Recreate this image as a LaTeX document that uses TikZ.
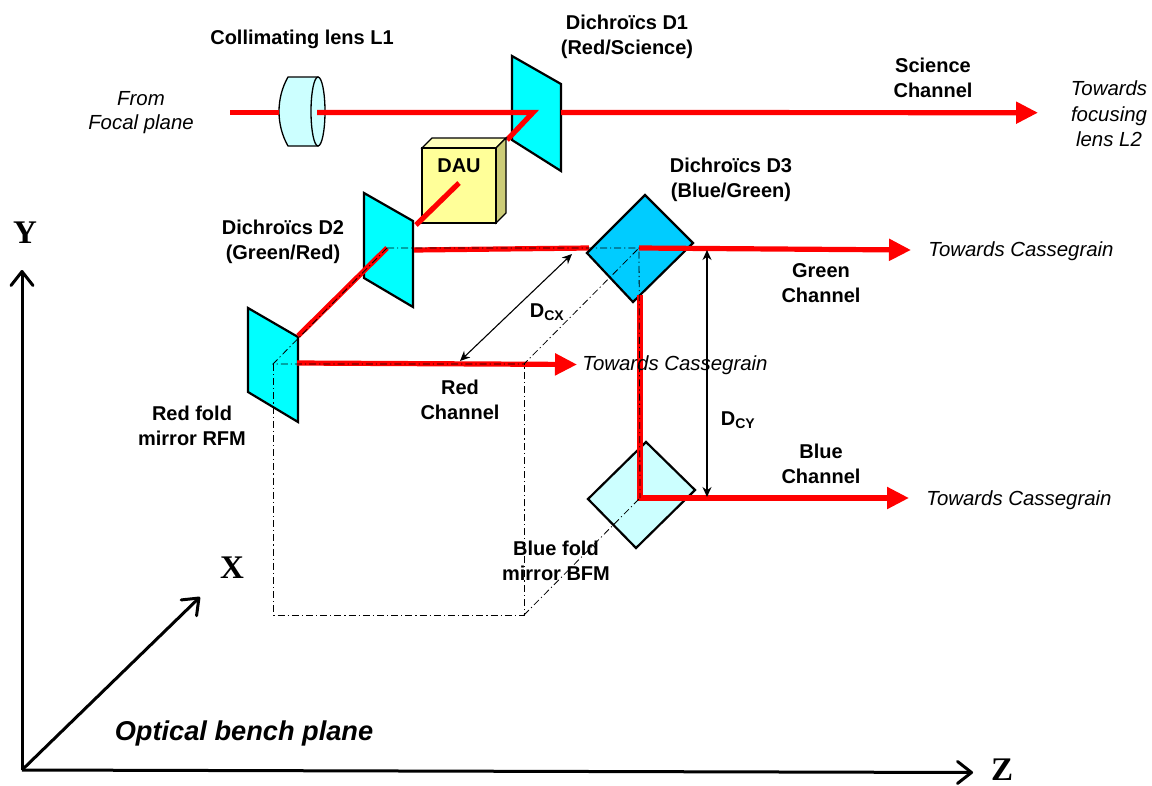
\documentclass[tikz,border=0pt]{standalone}
\usepackage{fontspec}
\setmainfont{Liberation Sans}
\newfontfamily\axisfont{Liberation Serif}
\usetikzlibrary{arrows.meta}
\definecolor{ray}{HTML}{FF0000}
\definecolor{mircyan}{HTML}{00FFFF}
\definecolor{dthree}{HTML}{00CCFF}
\definecolor{pale}{HTML}{CCFFFF}
\definecolor{dauf}{HTML}{FFFF99}
\definecolor{daus}{HTML}{CCCC77}
\definecolor{daut}{HTML}{FFFFBB}
\tikzset{
  x=1pt,y=-1pt,
  lbl/.style={align=center,inner sep=0pt,font=\fontsize{20}{24.8}\selectfont\bfseries},
  itl/.style={align=center,inner sep=0pt,font=\fontsize{20.4}{25.5}\selectfont\itshape},
  itltight/.style={align=center,inner sep=0pt,font=\fontsize{20.4}{24}\selectfont\itshape},
  axl/.style={inner sep=0pt,font=\fontsize{33}{36}\selectfont\axisfont\bfseries},
  mirror/.style={draw=black,line width=2.2pt,line join=miter},
  beam/.style={draw=ray,line width=5.2pt},
  beamarrow/.style={beam,-{Triangle[length=22pt,width=21pt]}},
  guide/.style={draw=black,line width=0.8pt,dash pattern=on 7pt off 3pt on 1.2pt off 3pt},
  dim/.style={draw=black,line width=1.1pt,{Stealth[length=10pt,width=9pt]}-{Stealth[length=10pt,width=9pt]}},
  axisline/.style={draw=black,line width=3pt,-{Straight Barb[length=14pt,width=22pt,line width=3pt,round]}},
}
\begin{document}
\begin{tikzpicture}
\useasboundingbox (0,0) rectangle (1152,785);
% named points
\coordinate (src) at (230,112.5);
\coordinate (lensL) at (279,112.5);
\coordinate (lensR) at (317,112.5);
\coordinate (d1c) at (533,112.5);
\coordinate (d1r) at (561,112.5);
\coordinate (sciEnd) at (1038,112.7);
\coordinate (d1low) at (507,140);
\coordinate (dauc) at (459,183);
\coordinate (dauin) at (416,225);
\coordinate (d2c) at (387,248);
\coordinate (d2r) at (414,250);
\coordinate (d2in) at (298,336);
\coordinate (rfmc) at (273,364);
\coordinate (rfmr) at (297,363);
\coordinate (redEnd) at (577,364.5);
\coordinate (d3l) at (589,248);
\coordinate (d3c) at (639,248);
\coordinate (greenEnd) at (911,250);
\coordinate (d3low) at (640,295);
\coordinate (bfmc) at (640,498);
\coordinate (blueEnd) at (909,498);
\coordinate (boxTR) at (524,364);
\coordinate (boxBR) at (524,615);
\coordinate (boxBL) at (273,615);
\coordinate (dcxA) at (572,254);
\coordinate (dcxB) at (460,361);
\coordinate (dcyA) at (707,250);
\coordinate (dcyB) at (707,497);
\coordinate (org) at (22,770);
\coordinate (yEnd) at (22,270);
\coordinate (zEnd) at (973,772.5);
\coordinate (xEnd) at (200,597);
% lens
\draw[fill=pale,line width=1.3pt] (288,77) -- (318,77) -- (318,146) -- (288,146)
  .. controls (276,125) and (276,98) .. (288,77) -- cycle;
\draw[fill=pale,line width=1.3pt] (318,111.5) ellipse [x radius=7,y radius=34.5];
% beam in
\draw[beam] (src) -- (lensL);
% D1
\draw[mirror,fill=mircyan] (512,56) -- (561,84) -- (561,171) -- (512,140) -- cycle;
\draw[beam,line join=miter] (lensR) -- (d1c) -- (d1low);
\draw[beamarrow] (d1r) -- (sciEnd);
% DAU
\draw[fill=daut,line width=1.1pt] (422,148) -- (432,138) -- (506,138) -- (496,148) -- cycle;
\draw[fill=daus,line width=1.1pt] (496,148) -- (506,138) -- (506,213) -- (496,223) -- cycle;
\draw[fill=dauf,line width=1.1pt] (422,148) rectangle (496,223);
\draw[beam] (dauc) -- (dauin);
% D2
\draw[mirror,fill=mircyan] (364,193) -- (413,221) -- (413,307) -- (364,278) -- cycle;
% RFM
\draw[mirror,fill=mircyan] (248,308) -- (298,337) -- (298,422) -- (248,392) -- cycle;
\draw[beam] (d2c) -- (d2in);
\draw[beam] (d2r) -- (d3l);
\draw[beamarrow] (rfmr) -- (redEnd);
% D3, BFM
\draw[mirror,fill=dthree] (645,195) -- (693,243) -- (633,302) -- (587,253) -- cycle;
\draw[mirror,fill=pale] (646,442) -- (695,490) -- (636,548) -- (588,499) -- cycle;
\draw[beamarrow,line join=miter] (d3low) -- (bfmc) -- (blueEnd);
\draw[beamarrow] (d3c) -- (greenEnd);
% guides
\draw[guide] (d2c) -- (d3c) -- (bfmc);
\draw[guide] (d2c) -- (rfmc) -- (boxTR) -- (d3c);
\draw[guide] (rfmc) -- (boxBL) -- (boxBR) -- (boxTR);
\draw[guide] (boxBR) -- (bfmc);
% dims
\draw[dim] (dcxA) -- (dcxB);
\draw[dim] (dcyA) -- (dcyB);
% axes
\draw[axisline] (org) -- (yEnd);
\draw[axisline] (org) -- (zEnd);
\draw[axisline] (org) -- (xEnd);
% labels
\node[lbl] (tL1) at (302,39) {Collimating lens L1};
\node[lbl] (tD1) at (627,36.5) {Dichroïcs D1\\(Red/Science)};
\node[lbl] (tSci) at (933,78) {Science\\Channel};
\node[itltight] (tFrom) at (141,112.5) {From\\Focal plane};
\node[itl] (tL2) at (1109,114) {Towards\\focusing\\lens L2};
\node[lbl] (tDAU) at (459,166) {DAU};
\node[lbl] (tD3) at (731,179.5) {Dichroïcs D3\\(Blue/Green)};
\node[lbl] (tD2) at (283,241.5) {Dichroïcs D2\\(Green/Red)};
\node[lbl] (tGreen) at (821,283) {Green\\Channel};
\node[itl] (tC1) at (1021,251.5) {Towards Cassegrain};
\node[lbl] (tDcx) at (547,312) {D\textsubscript{CX}};
\node[lbl] (tRed) at (460,400) {Red\\Channel};
\node[itl] (tC2) at (675,365) {Towards Cassegrain};
\node[lbl] (tDcy) at (738,420) {D\textsubscript{CY}};
\node[lbl] (tBlue) at (821,464) {Blue\\Channel};
\node[itl] (tC3) at (1019,500.5) {Towards Cassegrain};
\node[lbl] (tRFM) at (192,425.5) {Red fold\\mirror RFM};
\node[lbl] (tBFM) at (556,561) {Blue fold\\mirror BFM};
\node[inner sep=0pt,font=\fontsize{27.2}{30}\selectfont\bfseries\itshape] (tBench) at (244,733) {Optical bench plane};
\node[axl] (tY) at (25,232.5) {Y};
\node[axl] (tX) at (232,568) {X};
\node[axl] (tZ) at (1002,770) {Z};
\end{tikzpicture}
\end{document}
